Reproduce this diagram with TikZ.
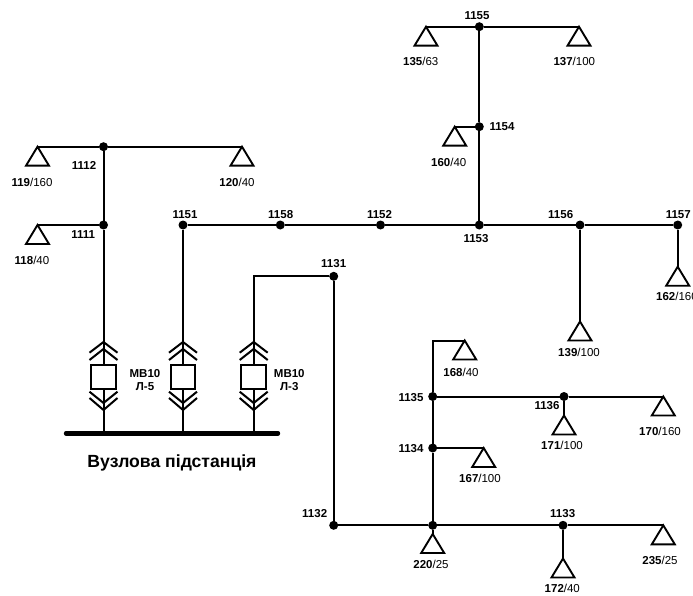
\documentclass[tikz,border=0pt]{standalone}
\usepackage{fontspec}
\setmainfont{Liberation Sans}
\usetikzlibrary{shapes.geometric}
\tikzset{
 vrtx/.style={shape=circle,fill=black,inner sep=0pt,minimum size=9pt,outer sep=0pt},
 load/.style={shape=isosceles triangle,shape border rotate=90,isosceles triangle stretches,draw=black,line width=1.9pt,
  fill=white,inner sep=0pt,outer sep=0pt,minimum width=23pt,minimum height=19pt,anchor=apex},
 brk/.style={shape=rectangle,draw=black,line width=2pt,fill=white,inner sep=0pt,outer sep=0pt,minimum width=24.6pt,minimum height=24pt},
 lbl/.style={font=\fontsize{11.5}{12}\selectfont,inner sep=0pt},
 wire/.style={line width=2pt},
 busbar/.style={line width=4.4pt,line cap=round},
 chevrons/.pic={
  \draw[wire] (-14,-24.3) -- (0,-35) -- (14,-24.3);
  \draw[wire] (-14,-17) -- (0,-28) -- (14,-17);
  \draw[wire] (-14,14.7) -- (0,26) -- (14,14.7);
  \draw[wire] (-14,21) -- (0,33) -- (14,21);
 }
}
\begin{document}
\begin{tikzpicture}[x=1pt,y=-1pt]
 \useasboundingbox (0,0) rectangle (693,596);
 \node (vrtx 1112) at (103.5,146.7) [vrtx] {};
 \node (vrtx 1111) at (103.5,225) [vrtx] {};
 \node (vrtx 1151) at (183,225) [vrtx] {};
 \node (vrtx 1158) at (280.3,225) [vrtx] {};
 \node (vrtx 1152) at (380.5,225) [vrtx] {};
 \node (vrtx 1153) at (479.3,225) [vrtx] {};
 \node (vrtx 1154) at (479.3,126.7) [vrtx] {};
 \node (vrtx 1155) at (479.3,26.7) [vrtx] {};
 \node (vrtx 1156) at (580,225) [vrtx] {};
 \node (vrtx 1157) at (677.7,225) [vrtx] {};
 \node (vrtx 1131) at (333.7,276.3) [vrtx] {};
 \node (vrtx 1132) at (333.7,525.3) [vrtx] {};
 \node (vrtx jn) at (432.7,525.3) [vrtx] {};
 \node (vrtx 1133) at (563,525.3) [vrtx] {};
 \node (vrtx 1134) at (432.7,448) [vrtx] {};
 \node (vrtx 1135) at (432.7,396.5) [vrtx] {};
 \node (vrtx 1136) at (564,396.5) [vrtx] {};
 \node (load 119) at (37.5,146.7) [load] {};
 \node (load 120) at (242,146.7) [load] {};
 \node (load 118) at (37.5,225) [load] {};
 \node (load 135) at (426,26.7) [load] {};
 \node (load 137) at (579,26.7) [load] {};
 \node (load 160) at (454.7,126.7) [load] {};
 \node (load 139) at (580,321.5) [load] {};
 \node (load 162) at (677.7,266.7) [load] {};
 \node (load 168) at (464.7,340.5) [load] {};
 \node (load 170) at (663.3,396.5) [load] {};
 \node (load 171) at (564,415.5) [load] {};
 \node (load 167) at (483.7,448) [load] {};
 \node (load 220) at (432.7,534) [load] {};
 \node (load 172) at (563,558.5) [load] {};
 \node (load 235) at (663.3,525.3) [load] {};
 \node (brk 1) at (103.5,377) [brk] {};
 \node (brk 2) at (183,377) [brk] {};
 \node (brk 3) at (253.7,377) [brk] {};
 \coordinate (bus l) at (66,433.3);
 \coordinate (bus r) at (278,433.3);
 \coordinate (tap 1) at (103.5,433.3);
 \coordinate (tap 2) at (183,433.3);
 \coordinate (tap 3) at (253.7,433.3);
 \pic at (brk 1) {chevrons};
 \pic at (brk 2) {chevrons};
 \pic at (brk 3) {chevrons};
 \draw[wire] (vrtx 1112) -- (load 119.apex);
 \draw[wire] (vrtx 1112) -- (load 120.apex);
 \draw[wire] (vrtx 1112) -- (vrtx 1111);
 \draw[wire] (vrtx 1111) -- (load 118.apex);
 \draw[wire] (vrtx 1111) -- (brk 1);
 \draw[wire] (vrtx 1151) -- (brk 2);
 \draw[wire] (vrtx 1131) -| (brk 3);
 \draw[wire] (brk 1) -- (tap 1);
 \draw[wire] (brk 2) -- (tap 2);
 \draw[wire] (brk 3) -- (tap 3);
 \draw[busbar] (bus l) -- (bus r);
 \draw[wire] (vrtx 1151) -- (vrtx 1158);
 \draw[wire] (vrtx 1158) -- (vrtx 1152);
 \draw[wire] (vrtx 1152) -- (vrtx 1153);
 \draw[wire] (vrtx 1153) -- (vrtx 1154);
 \draw[wire] (vrtx 1154) -- (vrtx 1155);
 \draw[wire] (vrtx 1154) -- (load 160.apex);
 \draw[wire] (vrtx 1155) -- (load 135.apex);
 \draw[wire] (vrtx 1155) -- (load 137.apex);
 \draw[wire] (vrtx 1153) -- (vrtx 1156);
 \draw[wire] (vrtx 1156) -- (vrtx 1157);
 \draw[wire] (vrtx 1156) -- (load 139.apex);
 \draw[wire] (vrtx 1157) -- (load 162.apex);
 \draw[wire] (vrtx 1131) -- (vrtx 1132);
 \draw[wire] (vrtx 1132) -- (vrtx jn);
 \draw[wire] (vrtx jn) -- (vrtx 1133);
 \draw[wire] (vrtx jn) -- (load 220.apex);
 \draw[wire] (vrtx jn) -- (vrtx 1134);
 \draw[wire] (vrtx 1134) -- (vrtx 1135);
 \draw[wire] (vrtx 1134) -- (load 167.apex);
 \draw[wire] (vrtx 1135) |- (load 168.apex);
 \draw[wire] (vrtx 1135) -- (vrtx 1136);
 \draw[wire] (vrtx 1136) -- (load 170.apex);
 \draw[wire] (vrtx 1136) -- (load 171.apex);
 \draw[wire] (vrtx 1133) -- (load 235.apex);
 \draw[wire] (vrtx 1133) -- (load 172.apex);
 \node (lbl 1112) at (84,165) [lbl] {\textbf{1112}};
 \node (lbl 1111) at (83.3,234.3) [lbl] {\textbf{1111}};
 \node (lbl 1151) at (185,215) [lbl] {\textbf{1151}};
 \node (lbl 1158) at (280.7,215) [lbl] {\textbf{1158}};
 \node (lbl 1152) at (379.5,215) [lbl] {\textbf{1152}};
 \node (lbl 1153) at (476,238.3) [lbl] {\textbf{1153}};
 \node (lbl 1154) at (502,127) [lbl] {\textbf{1154}};
 \node (lbl 1155) at (477,15.7) [lbl] {\textbf{1155}};
 \node (lbl 1156) at (560.7,215) [lbl] {\textbf{1156}};
 \node (lbl 1157) at (678.3,215) [lbl] {\textbf{1157}};
 \node (lbl 1131) at (333.7,264) [lbl] {\textbf{1131}};
 \node (lbl 1132) at (314.7,514) [lbl] {\textbf{1132}};
 \node (lbl 1133) at (562.7,514) [lbl] {\textbf{1133}};
 \node (lbl 1134) at (411,449) [lbl] {\textbf{1134}};
 \node (lbl 1135) at (411,397.7) [lbl] {\textbf{1135}};
 \node (lbl 1136) at (547,406) [lbl] {\textbf{1136}};
 \node (lbl 119) at (32,182.3) [lbl] {\textbf{119}/160};
 \node (lbl 120) at (237,182.3) [lbl] {\textbf{120}/40};
 \node (lbl 118) at (32,260) [lbl] {\textbf{118}/40};
 \node (lbl 135) at (420.7,61) [lbl] {\textbf{135}/63};
 \node (lbl 137) at (574.3,61) [lbl] {\textbf{137}/100};
 \node (lbl 160) at (448.7,162) [lbl] {\textbf{160}/40};
 \node (lbl 139) at (579,352) [lbl] {\textbf{139}/100};
 \node (lbl 162) at (656,296) [lbl,anchor=west] {\textbf{162}/160};
 \node (lbl 168) at (461,372) [lbl] {\textbf{168}/40};
 \node (lbl 170) at (660,431) [lbl] {\textbf{170}/160};
 \node (lbl 171) at (562,445) [lbl] {\textbf{171}/100};
 \node (lbl 167) at (480,478.7) [lbl] {\textbf{167}/100};
 \node (lbl 220) at (431,564) [lbl] {\textbf{220}/25};
 \node (lbl 172) at (562.3,588.7) [lbl] {\textbf{172}/40};
 \node (lbl 235) at (660,560) [lbl] {\textbf{235}/25};
 \node (lbl mb1) at (145,373.3) [lbl] {\textbf{МВ10}};
 \node (lbl l5) at (145,387) [lbl] {\textbf{Л-5}};
 \node (lbl mb3) at (289.3,373.3) [lbl] {\textbf{МВ10}};
 \node (lbl l3) at (289.3,387) [lbl] {\textbf{Л-3}};
 \node (lbl title) at (172,463) [lbl,font=\fontsize{17.6}{19}\selectfont] {\textbf{Вузлова підстанція}};
\end{tikzpicture}
\end{document}
